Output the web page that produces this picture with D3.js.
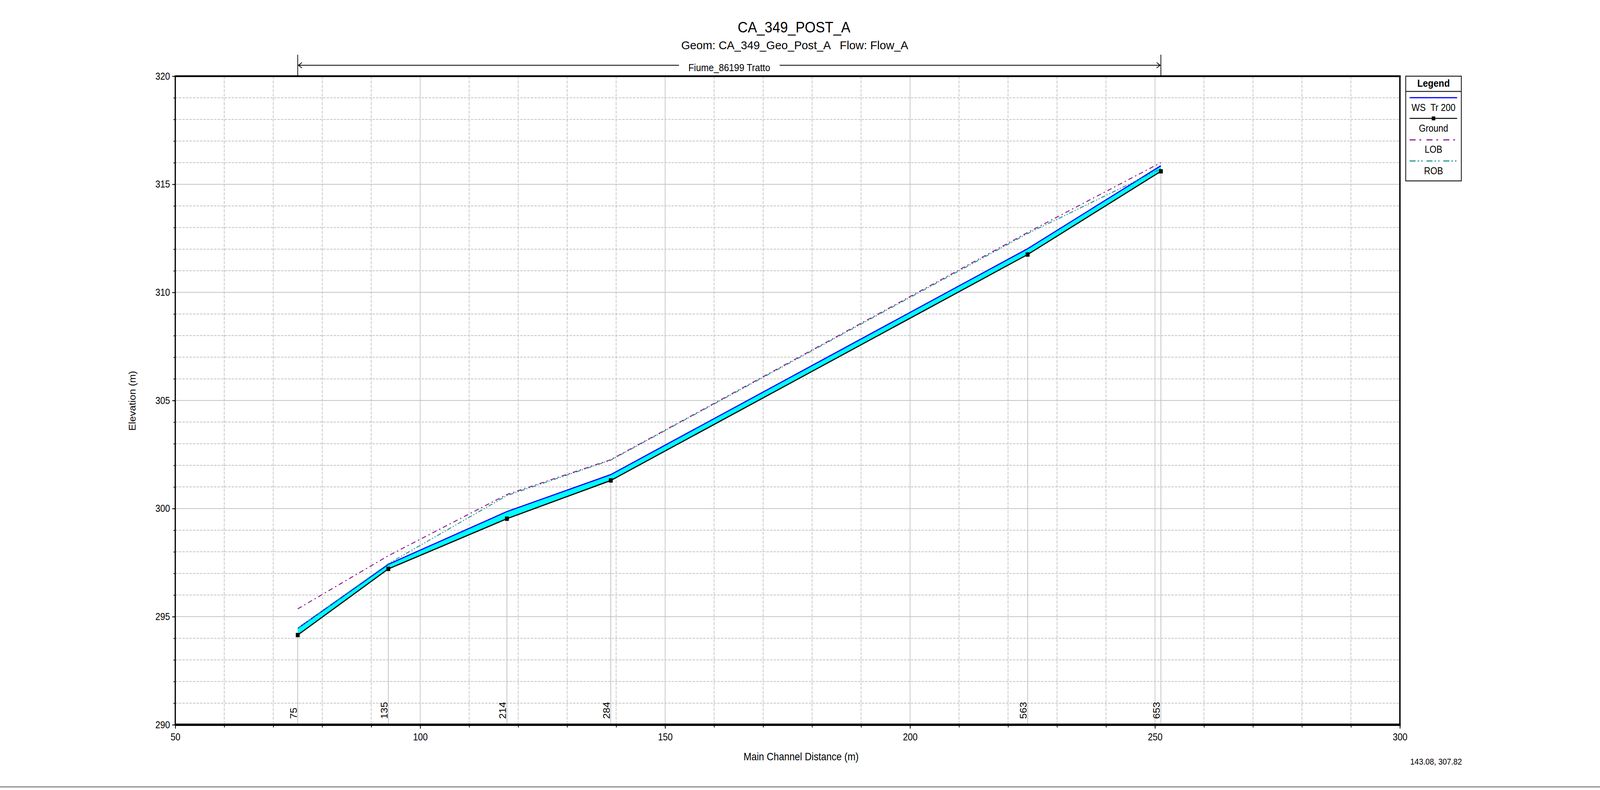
<!DOCTYPE html>
<html>
<head>
<meta charset="utf-8">
<script src="https://cdn.jsdelivr.net/npm/d3@7"></script>
<style>
  html, body { margin: 0; padding: 0; background: #fff; width: 100%; height: 100%; overflow: hidden; }
  svg { display: block; width: 100vw; height: 100vh; }
  text { font-family: "Liberation Sans", Arial, sans-serif; fill: #000; }
</style>
</head>
<body>
<script>
// ---------------- DATA ----------------
const stationLabels = ["75", "135", "214", "284", "563", "653"];
const channelDist   = [75, 93.5, 117.7, 138.9, 224.0, 251.2];
const groundElev    = [294.15, 297.21, 299.53, 301.30, 311.75, 315.60];
const wsElev        = [294.46, 297.42, 299.86, 301.57, 312.02, 315.86];
const lobElev       = [295.36, 297.82, 300.65, 302.26, 312.77, 316.00];
const robElev       = [294.46, 297.45, 300.60, 302.24, 312.72, 315.72];
const xTickLabels   = [50, 100, 150, 200, 250, 300];
const yTickLabels   = [290, 295, 300, 305, 310, 315, 320];
const legendItems   = ["WS  Tr 200", "Ground", "LOB", "ROB"];
const titleText     = "CA_349_POST_A";
const subtitleText  = "Geom: CA_349_Geo_Post_A   Flow: Flow_A";
const reachText     = "Fiume_86199 Tratto";
const cursorText    = "143.08, 307.82";

// ---------------- LAYOUT ----------------
const W = 4546, H = 2022;
const L = 498, R = 3977.5, T = 195, B = 1855;

const svg = d3.select("body").append("svg")
  .attr("viewBox", `0 0 ${W} ${H}`)
  .attr("preserveAspectRatio", "none");
svg.append("rect").attr("width", W).attr("height", H).attr("fill", "#fff");

const x = d3.scaleLinear().domain([50, 300]).range([L, R]);
const y = d3.scaleLinear().domain([290, 320]).range([B, T]);

const pts = channelDist.map((d, i) => ({
  x: d, g: groundElev[i], ws: wsElev[i], lob: lobElev[i], rob: robElev[i], s: stationLabels[i]
}));

// ---------------- GRID ----------------
const grid = svg.append("g");
const xMinor = d3.range(60, 300, 10).filter(v => v % 50 !== 0);
const xMajor = d3.range(100, 300, 50);
const yMinor = d3.range(291, 320, 1).filter(v => v % 5 !== 0);
const yMajor = d3.range(295, 320, 5);

grid.selectAll(".xmin").data(xMinor).join("line")
  .attr("x1", d => x(d)).attr("x2", d => x(d)).attr("y1", T).attr("y2", B)
  .attr("stroke", "#c4c4c4").attr("stroke-width", 2).attr("stroke-dasharray", "8,3");
grid.selectAll(".ymin").data(yMinor).join("line")
  .attr("x1", L).attr("x2", R).attr("y1", d => y(d)).attr("y2", d => y(d))
  .attr("stroke", "#c4c4c4").attr("stroke-width", 2).attr("stroke-dasharray", "7,3");
grid.selectAll(".xmaj").data(xMajor).join("line")
  .attr("x1", d => x(d)).attr("x2", d => x(d)).attr("y1", T).attr("y2", B)
  .attr("stroke", "#c4c4c4").attr("stroke-width", 2);
grid.selectAll(".ymaj").data(yMajor).join("line")
  .attr("x1", L).attr("x2", R).attr("y1", d => y(d)).attr("y2", d => y(d))
  .attr("stroke", "#c4c4c4").attr("stroke-width", 2);

// station vertical lines
grid.selectAll(".st").data(pts).join("line")
  .attr("x1", d => x(d.x)).attr("x2", d => x(d.x))
  .attr("y1", d => y(d.g)).attr("y2", B)
  .attr("stroke", "#bdbdbd").attr("stroke-width", 2);

// station labels
svg.append("g").selectAll("text").data(pts).join("text")
  .attr("transform", d => `translate(${x(d.x) - 3},1840) rotate(-90)`)
  .attr("font-size", 26).attr("text-anchor", "start")
  .text(d => d.s);

// ---------------- SERIES ----------------
const band = d3.area().x(d => x(d.x)).y0(d => y(d.g)).y1(d => y(d.ws));
svg.append("path").datum(pts).attr("d", band).attr("fill", "#00ffff");

const line = key => d3.line().x(d => x(d.x)).y(d => y(d[key]));

svg.append("path").datum(pts).attr("d", line("ws"))
  .attr("fill", "none").attr("stroke", "#0000ff").attr("stroke-width", 3);
svg.append("path").datum(pts).attr("d", line("g"))
  .attr("fill", "none").attr("stroke", "#000").attr("stroke-width", 3);
svg.append("path").datum(pts).attr("d", line("rob"))
  .attr("fill", "none").attr("stroke", "#1f9a90").attr("stroke-width", 2.5)
  .attr("stroke-dasharray", "12,5,3,5,3,5");
svg.append("path").datum(pts).attr("d", line("lob"))
  .attr("fill", "none").attr("stroke", "#8e1f8e").attr("stroke-width", 2.5)
  .attr("stroke-dasharray", "13,8,4,8");

svg.append("g").selectAll("rect").data(pts).join("rect")
  .attr("x", d => x(d.x) - 5.5).attr("y", d => y(d.g) - 5.5)
  .attr("width", 11).attr("height", 11).attr("fill", "#000");

// ---------------- AXES ----------------
const axY = svg.append("g");
axY.append("g").attr("transform", `translate(${L},0)`)
  .call(d3.axisLeft(y).tickValues(d3.range(290, 321, 1)).tickSize(5).tickFormat(""))
  .call(g => g.select(".domain").remove())
  .call(g => g.selectAll("line").attr("stroke-width", 2));
axY.append("g").attr("transform", `translate(${L},0)`)
  .call(d3.axisLeft(y).tickValues(yTickLabels).tickSize(9).tickPadding(6).tickFormat(d3.format("d")))
  .call(g => g.select(".domain").remove())
  .call(g => g.selectAll("line").attr("stroke-width", 2))
  .call(g => g.selectAll("text").attr("font-size", 25).attr("font-family", "Liberation Sans, Arial, sans-serif").attr("fill", "#000"));

const axX = svg.append("g");
axX.append("g").attr("transform", `translate(0,${B})`)
  .call(d3.axisBottom(x).tickValues(d3.range(50, 301, 10)).tickSize(7).tickFormat(""))
  .call(g => g.select(".domain").remove())
  .call(g => g.selectAll("line").attr("stroke-width", 2));
axX.append("g").attr("transform", `translate(0,${B})`)
  .call(d3.axisBottom(x).tickValues(xTickLabels).tickSize(10).tickPadding(12).tickFormat(d3.format("d")))
  .call(g => g.select(".domain").remove())
  .call(g => g.selectAll("line").attr("stroke-width", 2))
  .call(g => g.selectAll("text").attr("font-size", 25).attr("font-family", "Liberation Sans, Arial, sans-serif").attr("fill", "#000"));

// frame
svg.append("line").attr("x1", L).attr("x2", L).attr("y1", T - 2).attr("y2", B + 2).attr("stroke", "#000").attr("stroke-width", 3.5);
svg.append("line").attr("x1", R).attr("x2", R).attr("y1", T - 2).attr("y2", B + 2).attr("stroke", "#000").attr("stroke-width", 4);
svg.append("line").attr("x1", L).attr("x2", R + 2).attr("y1", T).attr("y2", T).attr("stroke", "#000").attr("stroke-width", 4.5);
svg.append("line").attr("x1", L).attr("x2", R + 2).attr("y1", B).attr("y2", B).attr("stroke", "#000").attr("stroke-width", 6);

// axis titles
svg.append("text").attr("transform", `translate(385,1026) rotate(-90)`)
  .attr("text-anchor", "middle").attr("font-size", 26).text("Elevation (m)");
svg.append("text").attr("x", 2276).attr("y", 1946)
  .attr("text-anchor", "middle").attr("font-size", 27).text("Main Channel Distance (m)");
svg.append("text").attr("x", 4007).attr("y", 1957)
  .attr("font-size", 22).text(cursorText);

// titles
svg.append("text").attr("x", 2256).attr("y", 83).attr("text-anchor", "middle")
  .attr("font-size", 38).attr("textLength", 320).attr("lengthAdjust", "spacingAndGlyphs").text(titleText);
svg.append("text").attr("x", 2258).attr("y", 126).attr("text-anchor", "middle")
  .attr("font-size", 29).attr("textLength", 645).attr("lengthAdjust", "spacingAndGlyphs")
  .style("white-space", "pre").text(subtitleText);

// reach arrow
const xa = x(channelDist[0]), xb = x(channelDist[channelDist.length - 1]);
const ay = 167, xm = (xa + xb) / 2;
const reach = svg.append("g").attr("stroke", "#000").attr("stroke-width", 2).attr("fill", "none");
reach.append("line").attr("x1", xa).attr("x2", xa).attr("y1", 140).attr("y2", T);
reach.append("line").attr("x1", xb).attr("x2", xb).attr("y1", 140).attr("y2", T);
reach.append("line").attr("x1", xa).attr("x2", xm - 143).attr("y1", ay).attr("y2", ay);
reach.append("line").attr("x1", xm + 143).attr("x2", xb).attr("y1", ay).attr("y2", ay);
reach.append("path").attr("d", `M${xa + 12},${ay - 7} L${xa + 2},${ay} L${xa + 12},${ay + 7}`);
reach.append("path").attr("d", `M${xb - 12},${ay - 7} L${xb - 2},${ay} L${xb - 12},${ay + 7}`);
svg.append("text").attr("x", xm).attr("y", 182).attr("text-anchor", "middle")
  .attr("font-size", 26).text(reachText);

// ---------------- LEGEND ----------------
const lg = svg.append("g");
const lx0 = 3994, lx1 = 4152, lcx = (lx0 + lx1) / 2;
lg.append("rect").attr("x", lx0).attr("y", 195).attr("width", lx1 - lx0).attr("height", 268)
  .attr("fill", "#fff").attr("stroke", "#222").attr("stroke-width", 2.5);
lg.append("line").attr("x1", lx0).attr("x2", lx1).attr("y1", 234).attr("y2", 234)
  .attr("stroke", "#222").attr("stroke-width", 2.5);
lg.append("text").attr("x", lcx).attr("y", 222).attr("text-anchor", "middle")
  .attr("font-size", 26).attr("font-weight", "bold").text("Legend");

const lineY = [250, 303, 358, 412];
const textY = [284, 337, 391, 446];
const lstyles = [
  { stroke: "#0000ff", w: 3, dash: null },
  { stroke: "#000", w: 2.5, dash: null },
  { stroke: "#8e1f8e", w: 3, dash: "17,11,5,15" },
  { stroke: "#1f9a90", w: 3, dash: "17,6,4,6,4,11" }
];
legendItems.forEach((name, i) => {
  const s = lstyles[i];
  const ln = lg.append("line").attr("x1", 4005).attr("x2", 4140)
    .attr("y1", lineY[i]).attr("y2", lineY[i])
    .attr("stroke", s.stroke).attr("stroke-width", s.w);
  if (s.dash) ln.attr("stroke-dasharray", s.dash);
  if (i === 1) lg.append("rect").attr("x", lcx - 5).attr("y", lineY[i] - 5)
    .attr("width", 10).attr("height", 10).attr("fill", "#000");
  lg.append("text").attr("x", lcx).attr("y", textY[i]).attr("text-anchor", "middle")
    .attr("font-size", 25).style("white-space", "pre").text(name);
});

// bottom window border
svg.append("line").attr("x1", 0).attr("x2", W).attr("y1", 2014).attr("y2", 2014)
  .attr("stroke", "#8a8a8a").attr("stroke-width", 3);
</script>
</body>
</html>
